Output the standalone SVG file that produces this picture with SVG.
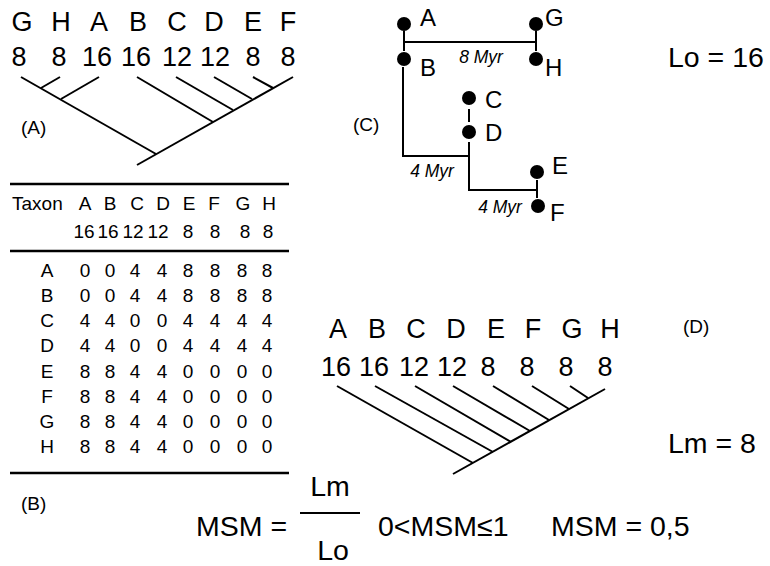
<svg xmlns="http://www.w3.org/2000/svg" width="770" height="566" viewBox="0 0 770 566">
  <style>
    text { font-family: "Liberation Sans", Arial, sans-serif; fill: #000; }
    .big { font-size: 27px; }
    .lab { font-size: 19px; }
    .tab { font-size: 19px; text-anchor: middle; }
    .mid { text-anchor: middle; }
    .node { font-size: 24px; }
    .myr { font-size: 17.5px; font-style: italic; }
    .eq { font-size: 28.5px; }
    line, polyline { stroke: #000; stroke-width: 2; fill: none; }
    .rule { stroke-width: 2.5; }
  </style>
  <rect width="770" height="566" fill="#fff"/>

  <!-- (A) tree of taxa G..F -->
  <g id="tree-a">
    <g id="tree-a-labels" class="big mid">
      <text x="22" y="31">G</text><text x="61" y="31">H</text><text x="99" y="31">A</text><text x="138" y="31">B</text>
      <text x="177" y="31">C</text><text x="214" y="31">D</text><text x="253" y="31">E</text><text x="288" y="31">F</text>
      <text x="19" y="66">8</text><text x="59" y="66">8</text><text x="97" y="66">16</text><text x="136" y="66">16</text>
      <text x="177" y="66">12</text><text x="215" y="66">12</text><text x="253" y="66">8</text><text x="288" y="66">8</text>
    </g>
    <text class="lab" x="21" y="134">(A)</text>
  </g>

  <!-- (B) distance matrix -->
  <g id="table-b">
    <line class="rule" x1="10" y1="184" x2="289" y2="184"/>
    <line class="rule" x1="10" y1="251" x2="289" y2="251"/>
    <line class="rule" x1="10" y1="473" x2="289" y2="473"/>
    <text class="lab" x="12" y="210">Taxon</text>
    <g class="tab">
      <text x="85" y="210">A</text><text x="110" y="210">B</text><text x="137" y="210">C</text><text x="163" y="210">D</text>
      <text x="189" y="210">E</text><text x="214" y="210">F</text><text x="243" y="210">G</text><text x="269" y="210">H</text>
      <text x="84" y="238">16</text><text x="108" y="238">16</text><text x="133" y="238">12</text><text x="158" y="238">12</text>
      <text x="188" y="238">8</text><text x="215" y="238">8</text><text x="245" y="238">8</text><text x="268" y="238">8</text>
    </g>
    <g class="tab">
      <text x="47" y="277">A</text><text x="85" y="277">0</text><text x="110" y="277">0</text><text x="135" y="277">4</text><text x="162" y="277">4</text><text x="188" y="277">8</text><text x="215" y="277">8</text><text x="242" y="277">8</text><text x="267" y="277">8</text>
      <text x="47" y="302">B</text><text x="85" y="302">0</text><text x="110" y="302">0</text><text x="135" y="302">4</text><text x="162" y="302">4</text><text x="188" y="302">8</text><text x="215" y="302">8</text><text x="242" y="302">8</text><text x="267" y="302">8</text>
      <text x="47" y="327">C</text><text x="85" y="327">4</text><text x="110" y="327">4</text><text x="135" y="327">0</text><text x="162" y="327">0</text><text x="188" y="327">4</text><text x="215" y="327">4</text><text x="242" y="327">4</text><text x="267" y="327">4</text>
      <text x="47" y="352">D</text><text x="85" y="352">4</text><text x="110" y="352">4</text><text x="135" y="352">0</text><text x="162" y="352">0</text><text x="188" y="352">4</text><text x="215" y="352">4</text><text x="242" y="352">4</text><text x="267" y="352">4</text>
      <text x="47" y="378">E</text><text x="85" y="378">8</text><text x="110" y="378">8</text><text x="135" y="378">4</text><text x="162" y="378">4</text><text x="188" y="378">0</text><text x="215" y="378">0</text><text x="242" y="378">0</text><text x="267" y="378">0</text>
      <text x="47" y="403">F</text><text x="85" y="403">8</text><text x="110" y="403">8</text><text x="135" y="403">4</text><text x="162" y="403">4</text><text x="188" y="403">0</text><text x="215" y="403">0</text><text x="242" y="403">0</text><text x="267" y="403">0</text>
      <text x="47" y="428">G</text><text x="85" y="428">8</text><text x="110" y="428">8</text><text x="135" y="428">4</text><text x="162" y="428">4</text><text x="188" y="428">0</text><text x="215" y="428">0</text><text x="242" y="428">0</text><text x="267" y="428">0</text>
      <text x="47" y="453">H</text><text x="85" y="453">8</text><text x="110" y="453">8</text><text x="135" y="453">4</text><text x="162" y="453">4</text><text x="188" y="453">0</text><text x="215" y="453">0</text><text x="242" y="453">0</text><text x="267" y="453">0</text>
    </g>
    <text class="lab" x="21" y="510">(B)</text>
  </g>

  <!-- (C) divergence-time network: one group per taxon -->
  <g id="net-c">
    <g id="c-A"><circle cx="404" cy="24" r="7"/><text class="node" x="420" y="26">A</text></g>
    <g id="c-B"><circle cx="404" cy="59" r="7"/><text class="node" x="420" y="76">B</text></g>
    <g id="c-G"><circle cx="536" cy="24" r="7"/><text class="node" x="545" y="26">G</text></g>
    <g id="c-H"><circle cx="536" cy="59" r="7"/><text class="node" x="545" y="76">H</text></g>
    <g id="c-C"><circle cx="469" cy="98" r="7"/><text class="node" x="485" y="108">C</text></g>
    <g id="c-D"><circle cx="469" cy="132" r="7"/><text class="node" x="485" y="141">D</text></g>
    <g id="c-E"><circle cx="537" cy="172" r="7"/><text class="node" x="552" y="174">E</text></g>
    <g id="c-F"><circle cx="538" cy="206" r="7"/><text class="node" x="550" y="221">F</text></g>
    <text class="myr mid" x="481" y="63">8 Myr</text>
    <text class="myr mid" x="432" y="177">4 Myr</text>
    <text class="myr mid" x="500" y="213">4 Myr</text>
    <text class="lab" x="353" y="131">(C)</text>
  </g>

  <!-- (D) comb tree of taxa A..H -->
  <g id="tree-d">
    <g id="tree-d-labels" class="big mid">
      <text x="338" y="338">A</text><text x="377" y="338">B</text><text x="416" y="338">C</text><text x="456" y="338">D</text>
      <text x="496" y="338">E</text><text x="533" y="338">F</text><text x="572" y="338">G</text><text x="610" y="338">H</text>
      <text x="336" y="376">16</text><text x="374" y="376">16</text><text x="414" y="376">12</text><text x="452" y="376">12</text>
      <text x="488" y="376">8</text><text x="527" y="376">8</text><text x="566" y="376">8</text><text x="605" y="376">8</text>
    </g>
    <text class="lab" x="683" y="333">(D)</text>
  </g>

  <!-- tree lengths and the MSM formula -->
  <g id="lengths" class="eq">
    <text x="668" y="67">Lo = 16</text>
    <text x="668" y="453">Lm = 8</text>
  </g>
  <g id="formula" class="eq">
    <text x="196" y="536">MSM =</text>
    <text class="mid" x="330" y="496">Lm</text>
    <line x1="300" y1="513" x2="360" y2="513"/>
    <text class="mid" x="333" y="560">Lo</text>
    <text x="378" y="536">0&lt;MSM≤1</text>
    <text x="551" y="536">MSM = 0,5</text>
  </g>

  <!-- connectors: tree branches and network edges -->
  <g id="connectors">
    <!-- tree A -->
    <line x1="137" y1="165" x2="293" y2="77"/>
    <line x1="21" y1="77" x2="156" y2="154"/>
    <line x1="60" y1="77" x2="41" y2="88"/>
    <line x1="99" y1="77" x2="61" y2="99"/>
    <line x1="137" y1="77" x2="213" y2="122"/>
    <line x1="176" y1="77" x2="233" y2="110"/>
    <line x1="214" y1="77" x2="252" y2="99"/>
    <line x1="253" y1="77" x2="273" y2="88"/>
    <!-- network C -->
    <line x1="404" y1="31" x2="404" y2="51"/>
    <line x1="404" y1="42" x2="536" y2="42"/>
    <line x1="536" y1="31" x2="536" y2="51"/>
    <polyline points="403,67 403,156 469,156"/>
    <line x1="469" y1="109" x2="469" y2="122"/>
    <polyline points="469,142 469,190 537,190"/>
    <line x1="537" y1="180" x2="537" y2="198"/>
    <!-- tree D -->
    <line x1="453" y1="474" x2="605" y2="389"/>
    <line x1="337" y1="386" x2="473" y2="463"/>
    <line x1="375" y1="386" x2="493" y2="452"/>
    <line x1="415" y1="386" x2="511" y2="442"/>
    <line x1="453" y1="386" x2="530" y2="431"/>
    <line x1="493" y1="386" x2="549" y2="420"/>
    <line x1="532" y1="386" x2="569" y2="409"/>
    <line x1="570" y1="386" x2="588" y2="398"/>
  </g>
</svg>
